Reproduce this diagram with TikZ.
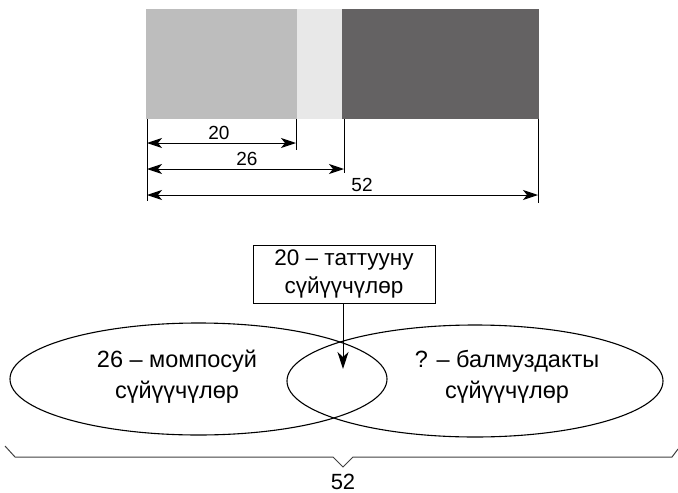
\documentclass[tikz,border=0pt]{standalone}
\usepackage{fontspec}
\setmainfont{Liberation Sans}
\usetikzlibrary{arrows.meta}
\definecolor{barA}{HTML}{BDBDBD}
\definecolor{barB}{HTML}{E8E8E8}
\definecolor{barC}{HTML}{646263}
\tikzset{
  dimarrow/.style={line width=1pt,{Stealth[length=15pt,width=10pt,inset=4pt]}-{Stealth[length=15pt,width=10pt,inset=4pt]}},
  extline/.style={line width=1pt},
  dimlabel/.style={font=\fontsize{19}{21}\selectfont,inner sep=0pt},
  venn/.style={draw,line width=1.1pt},
  venntext/.style={font=\fontsize{23.5}{31}\selectfont,align=center,inner sep=0pt},
  infobox/.style={draw,line width=1pt,font=\fontsize{22.5}{28}\selectfont,align=center,minimum width=182pt,minimum height=58pt,inner sep=0pt},
  pointer/.style={line width=1pt,-{Stealth[length=17pt,width=11pt,inset=5pt]}},
  bracestyle/.style={line width=1pt,draw=black!75}
}
\begin{document}
\begin{tikzpicture}[x=1pt,y=-1pt]
\useasboundingbox (0,0) rectangle (678,493);
% bar
\fill[barA] (146,9) rectangle (297,119);
\fill[barB] (297,9) rectangle (342,119);
\fill[barC] (342,9) rectangle (539,119);
% extension lines
\coordinate (e0t) at (147,119); \coordinate (e0b) at (147,201);
\coordinate (e1t) at (296,119); \coordinate (e1b) at (296,150);
\coordinate (e2t) at (344,119); \coordinate (e2b) at (344,173);
\coordinate (e3t) at (538,119); \coordinate (e3b) at (538,203);
\draw[extline] (e0t) -- (e0b);
\draw[extline] (e1t) -- (e1b);
\draw[extline] (e2t) -- (e2b);
\draw[extline] (e3t) -- (e3b);
% dimension arrows
\coordinate (a1l) at (147,143); \coordinate (a1r) at (296,143);
\coordinate (a2l) at (147,169); \coordinate (a2r) at (344,169);
\coordinate (a3l) at (147,195); \coordinate (a3r) at (538,195);
\draw[dimarrow] (a1l) -- (a1r);
\draw[dimarrow] (a2l) -- (a2r);
\draw[dimarrow] (a3l) -- (a3r);
\node[dimlabel] (l20) at (219,133) {20};
\node[dimlabel] (l26) at (247,159) {26};
\node[dimlabel] (l52) at (362,185) {52};
% ellipses
\draw[venn] (198.5,379) ellipse [x radius=188.5, y radius=56];
\draw[venn] (475,381) ellipse [x radius=188, y radius=56];
\node[venntext] (left) at (177,377) {26 – момпосуй\\сүйүүчүлөр};
\node[venntext] (right) at (507,377) {? – балмуздакты\\сүйүүчүлөр};
% box and pointer
\node[infobox] (box) at (344,274) {20 – таттууну\\сүйүүчүлөр};
\coordinate (tip) at (343,369);
\draw[pointer] (box.south -| tip) -- (tip);
% brace
\coordinate (b0) at (5,446); \coordinate (b1) at (15,457);
\coordinate (b2) at (333,457); \coordinate (btip) at (343,467);
\coordinate (b3) at (353,457); \coordinate (b4) at (672,457);
\coordinate (b5) at (678,449);
\draw[bracestyle] (b0) -- (b1) -- (b2) -- (btip) -- (b3) -- (b4) -- (b5);
\node[font=\fontsize{22}{24}\selectfont,inner sep=0pt] (total) at (343,482) {52};
\end{tikzpicture}
\end{document}
